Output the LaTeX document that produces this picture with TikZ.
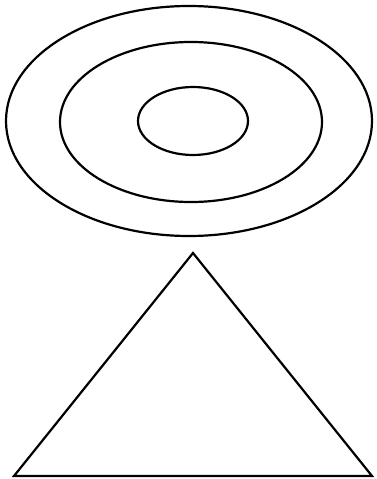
\documentclass[tikz,border=0pt]{standalone}
\usepackage{tikz}
\usetikzlibrary{positioning}

\tikzset{outline/.style={draw=black, line width=2.2pt}}

\begin{document}
\begin{tikzpicture}[x=1pt, y=-1pt]
            \useasboundingbox (0,0) rectangle (376,479);

            % Define corners of the triangle
            \coordinate (top) at (193,253);
            \coordinate (left) at (14,476);
            \coordinate (right) at (372,476);

            % Draw the rings
            \draw[outline] (189,121) ellipse [x radius=183, y radius=115];
            \draw[outline] (191,122) ellipse [x radius=131, y radius=80];
            \draw[outline] (193,121) ellipse [x radius=55, y radius=34];

            % Draw the triangle
            \draw[outline, line join=miter] (top) -- (right) -- (left) -- cycle;

        \end{tikzpicture}
\end{document}
